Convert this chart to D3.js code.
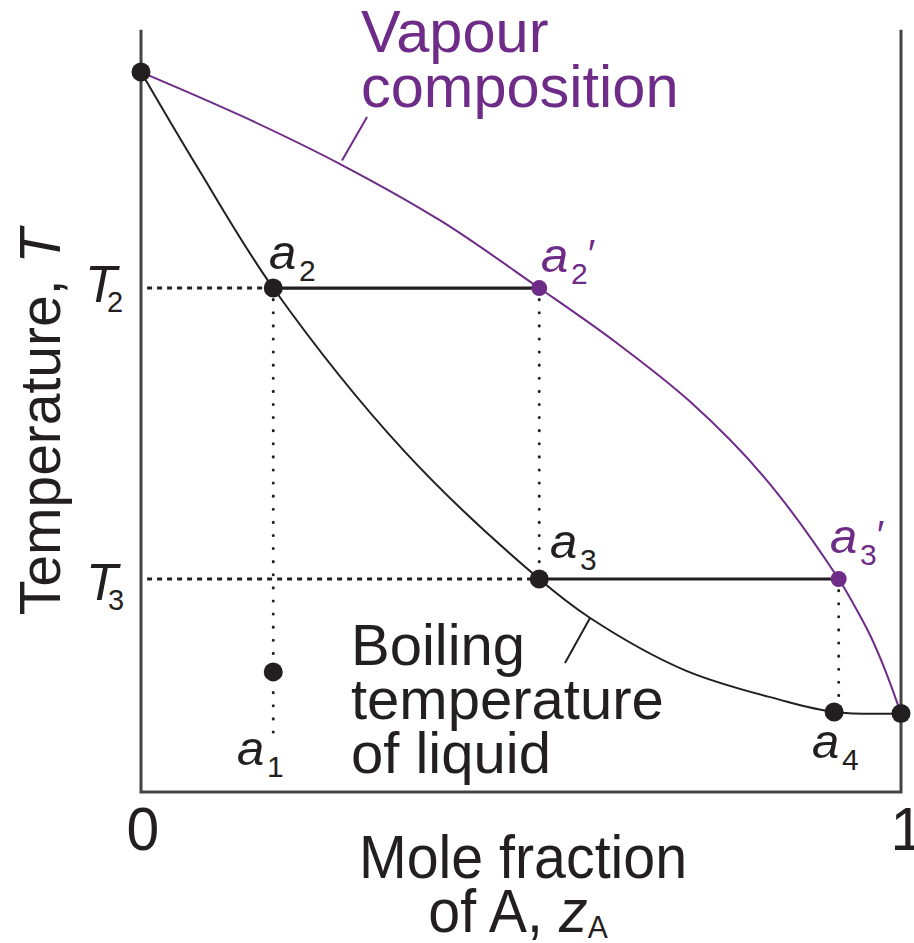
<!DOCTYPE html>
<html>
<head>
<meta charset="utf-8">
<script src="https://cdn.jsdelivr.net/npm/d3@7"></script>
<style>
  html, body { margin: 0; padding: 0; background: #fff; }
  svg { display: block; }
  text { font-family: "Liberation Sans", Arial, Helvetica, sans-serif; }
</style>
</head>
<body>
<svg id="chart" width="914" height="943"></svg>
<script>
// ---- Data (composition z_A, relative temperature) ----
const liquidX = [0, 0.075, 0.174, 0.347, 0.524, 0.591, 0.716, 0.84, 0.912, 1.0];
const liquidT = [0.935, 0.81, 0.6545, 0.442, 0.2766, 0.226, 0.158, 0.12, 0.104, 0.102];
const vapourX = [0, 0.1316, 0.2632, 0.3947, 0.524, 0.6243, 0.7224, 0.8204, 0.918, 0.9382, 0.9586, 0.9786, 1.0];
const vapourT = [0.935, 0.8783, 0.8149, 0.7416, 0.6545, 0.5844, 0.507, 0.4084, 0.2766, 0.2429, 0.2052, 0.1597, 0.102];
const T2 = 0.6545, T3 = 0.2766;
const pointLabels = ["a2", "a2'", "a3", "a3'", "a4", "a1"];
const pointX      = [0.174, 0.524, 0.524, 0.918, 0.912, 0.174];
const pointT      = [T2, T2, T3, T3, 0.104, 0.156];
const endX = [0, 1], endT = [0.935, 0.102];
const xTickLabels = ["0", "1"];

const purple = "#6e2b87", ink = "#231f20";
const svg = d3.select("#chart");
const x = d3.scaleLinear().domain([0, 1]).range([141, 901]);
const y = d3.scaleLinear().domain([0, 1]).range([792, 22]);

// frame (axes)
svg.append("path")
  .attr("d", `M${x(0)},${y(0.99)} V${y(0)} H${x(1)} V${y(0.99)}`)
  .attr("fill", "none").attr("stroke", "#444").attr("stroke-width", 3);

// dotted guides
const hDot = (xa, xb, t) => svg.append("line")
  .attr("x1", x(xa)).attr("x2", x(xb)).attr("y1", y(t)).attr("y2", y(t))
  .attr("stroke", ink).attr("stroke-width", 3).attr("stroke-dasharray", "5 5");
const vDot = (xv, ta, tb) => svg.append("line")
  .attr("x1", x(xv)).attr("x2", x(xv)).attr("y1", y(ta)).attr("y2", y(tb))
  .attr("stroke", ink).attr("stroke-width", 3).attr("stroke-linecap", "round")
  .attr("stroke-dasharray", "0.1 13");
hDot(0.008, pointX[0], T2);
hDot(0.008, pointX[2], T3);
vDot(pointX[0], T2 - 0.015, 0.074);
vDot(pointX[1], T2 - 0.015, T3 + 0.012);
vDot(pointX[3], T3 - 0.015, pointT[4] + 0.012);

// curves
const line = d3.line().x(d => x(d[0])).y(d => y(d[1])).curve(d3.curveCatmullRom.alpha(0.5));
svg.append("path").attr("d", line(liquidX.map((v, i) => [v, liquidT[i]])))
  .attr("fill", "none").attr("stroke", ink).attr("stroke-width", 2);
svg.append("path").attr("d", line(vapourX.map((v, i) => [v, vapourT[i]])))
  .attr("fill", "none").attr("stroke", purple).attr("stroke-width", 2);

// tie lines
[[0, 1], [2, 3]].forEach(([a, b]) => svg.append("line")
  .attr("x1", x(pointX[a])).attr("x2", x(pointX[b]))
  .attr("y1", y(pointT[a])).attr("y2", y(pointT[b]))
  .attr("stroke", ink).attr("stroke-width", 3.2));

// leader lines
svg.append("line").attr("x1", x(0.2974)).attr("y1", y(0.8766)).attr("x2", x(0.2645)).attr("y2", y(0.82))
  .attr("stroke", purple).attr("stroke-width", 2);
svg.append("line").attr("x1", x(0.5908)).attr("y1", y(0.226)).attr("x2", x(0.5579)).attr("y2", y(0.1675))
  .attr("stroke", ink).attr("stroke-width", 2);

// dots
endX.forEach((v, i) => svg.append("circle").attr("cx", x(v)).attr("cy", y(endT[i])).attr("r", 9.5).attr("fill", ink));
pointLabels.forEach((n, i) => {
  const isV = n.includes("'");
  svg.append("circle").attr("cx", x(pointX[i])).attr("cy", y(pointT[i]))
    .attr("r", isV ? 8 : 9.5).attr("fill", isV ? purple : ink);
});

// point labels
const labelPos = {"a2": [269, 269], "a2'": [541, 272], "a3": [550, 558], "a3'": [830, 553], "a4": [812, 758], "a1": [237, 765]};
pointLabels.forEach(n => {
  const [lx, ly] = labelPos[n];
  const col = n.includes("'") ? purple : ink;
  svg.append("text").attr("x", lx).attr("y", ly).attr("font-size", 49).attr("font-style", "italic")
    .attr("fill", col).text("a");
  svg.append("text").attr("x", lx + 30).attr("y", ly + 12).attr("font-size", 30).attr("fill", col).text(n[1]);
  if (n.includes("'")) svg.append("text").attr("x", lx + 45).attr("y", ly - 4).attr("font-size", 40)
    .attr("font-style", "italic").attr("fill", col).text("′");
});

// T labels
[[T2, "2", 85, 302], [T3, "3", 86, 600]].forEach(([t, s, lx, ly]) => {
  svg.append("text").attr("x", lx).attr("y", ly).attr("font-size", 52).attr("font-style", "italic").attr("fill", ink).text("T");
  svg.append("text").attr("x", lx + 22).attr("y", ly + 10).attr("font-size", 29).attr("fill", ink).text(s);
});

// curve labels
const vap = svg.append("text").attr("font-size", 59.5).attr("fill", purple);
vap.append("tspan").attr("x", 361).attr("y", 52).text("Vapour");
vap.append("tspan").attr("x", 361).attr("y", 107).text("composition");
const boil = svg.append("text").attr("font-size", 58).attr("fill", ink);
["Boiling", "temperature", "of liquid"].forEach((s, i) =>
  boil.append("tspan").attr("x", 351).attr("y", 665 + i * 54).text(s));

// axis tick labels
const narrow = svg.append("g");
xTickLabels.forEach((s, i) => {
  const cx = x(i) + (i === 0 ? 2 : 6);
  narrow.append("text").attr("transform", `translate(${cx},850) scale(0.95,1)`)
    .attr("text-anchor", "middle").attr("font-size", 62).attr("fill", ink).text(s);
});
// x axis title
narrow.append("text").attr("transform", "translate(523,878) scale(0.94,1)")
  .attr("text-anchor", "middle").attr("font-size", 61).attr("fill", ink).text("Mole fraction");
const t2 = narrow.append("text").attr("transform", "translate(518,932) scale(0.94,1)")
  .attr("text-anchor", "middle").attr("font-size", 61).attr("fill", ink);
t2.append("tspan").text("of A, ");
t2.append("tspan").attr("font-style", "italic").text("z");
t2.append("tspan").attr("font-size", 32).attr("dy", 6).text("A");

// y axis title
const yt = svg.append("text").attr("transform", "translate(60,422) rotate(-90)")
  .attr("text-anchor", "middle").attr("font-size", 57).attr("fill", ink);
yt.append("tspan").text("Temperature, ");
yt.append("tspan").attr("font-style", "italic").text("T");
</script>
</body>
</html>
